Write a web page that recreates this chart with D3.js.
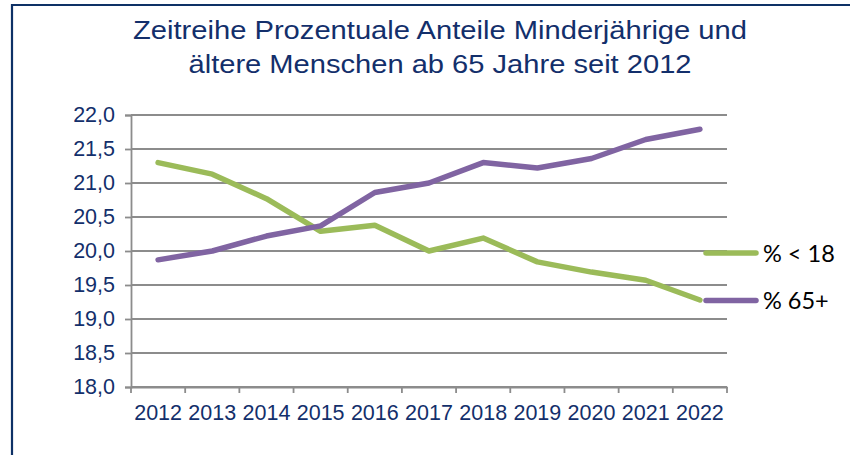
<!DOCTYPE html>
<html><head><meta charset="utf-8">
<script src="https://cdn.jsdelivr.net/npm/d3@7"></script>
<style>
html,body{margin:0;padding:0;background:#fff;}
svg{display:block;}
</style></head>
<body>
<svg id="chart" width="850" height="455"></svg>
<script>
const years = ["2012","2013","2014","2015","2016","2017","2018","2019","2020","2021","2022"];
const under18 = [21.30, 21.13, 20.77, 20.29, 20.38, 20.00, 20.19, 19.84, 19.69, 19.57, 19.28];
const over65 = [19.87, 20.00, 20.22, 20.37, 20.86, 21.00, 21.30, 21.22, 21.36, 21.64, 21.79];
const yTicks = [18.0, 18.5, 19.0, 19.5, 20.0, 20.5, 21.0, 21.5, 22.0];
const seriesNames = ["% < 18", "% 65+"];
const seriesColors = ["#9BBB59", "#8064A2"];
const titleLines = ["Zeitreihe Prozentuale Anteile Minderjährige und", "ältere Menschen ab 65 Jahre seit 2012"];

const svg = d3.select("#chart");
const textColor = "#132F6B";
const gridColor = "#8C8C8C";

// border
svg.append("path").attr("d","M12,455 L12,5 L850,5")
  .attr("fill","none").attr("stroke","#0E3166").attr("stroke-width",2.2);

// title
const titleY = [39, 73];
const titleW = [614, 503];
titleLines.forEach((t,i)=>{
  svg.append("text").attr("x",440).attr("y",titleY[i])
    .attr("text-anchor","middle").attr("fill",textColor)
    .style("font-family","'Liberation Sans', Arial, sans-serif").style("font-size","26px")
    .attr("textLength", titleW[i]).attr("lengthAdjust","spacingAndGlyphs").text(t);
});

const x = d3.scaleBand().domain(years).range([131, 727]);
const y = d3.scaleLinear().domain([18, 22]).range([387, 115]);

// gridlines
svg.append("g").selectAll("line").data(yTicks.filter(d=>d>18)).join("line")
  .attr("x1",131).attr("x2",727).attr("y1",d=>y(d)).attr("y2",d=>y(d))
  .attr("stroke",gridColor).attr("stroke-width",1.8);

// y axis
const yAxis = svg.append("g").attr("transform","translate(131,0)")
  .call(d3.axisLeft(y).tickValues(yTicks).tickSize(6).tickPadding(10)
    .tickFormat(d=>d3.format(".1f")(d).replace(".",",")));
// x axis
const xAxis = svg.append("g").attr("transform","translate(0,387)")
  .call(d3.axisBottom(x).tickSize(0).tickPadding(18));
[yAxis,xAxis].forEach(g=>{
  g.select(".domain").attr("stroke",gridColor).attr("stroke-width",1.8);
  g.selectAll(".tick line").attr("stroke",gridColor).attr("stroke-width",1.8);
  g.selectAll("text").attr("fill",textColor)
    .style("font-family","'Liberation Sans', Arial, sans-serif").style("font-size","21.5px");
});
// x tick marks at band boundaries
const bounds = years.map(d=>x(d)).concat([x(years[years.length-1])+x.bandwidth()]);
svg.append("g").selectAll("line").data(bounds).join("line")
  .attr("x1",d=>d).attr("x2",d=>d).attr("y1",387).attr("y2",393)
  .attr("stroke",gridColor).attr("stroke-width",1.8);
svg.append("line").attr("x1",131).attr("x2",727).attr("y1",387).attr("y2",387)
  .attr("stroke",gridColor).attr("stroke-width",1.8);

// lines
const line = d3.line().x((d,i)=>x(years[i])+x.bandwidth()/2).y(d=>y(d));
[under18, over65].forEach((s,i)=>{
  svg.append("path").datum(s).attr("d",line).attr("fill","none")
    .attr("stroke",seriesColors[i]).attr("stroke-width",5.5)
    .attr("stroke-linecap","round").attr("stroke-linejoin","round");
});

// legend
const legY = [253, 300.5];
seriesNames.forEach((n,i)=>{
  svg.append("line").attr("x1",706).attr("x2",756).attr("y1",legY[i]).attr("y2",legY[i])
    .attr("stroke",seriesColors[i]).attr("stroke-width",5.5).attr("stroke-linecap","round");
  svg.append("text").attr("x",763).attr("y",legY[i]+8.5).attr("fill","#000")
    .style("font-family","Lato, 'Open Sans', sans-serif").style("font-size","23.5px").text(n);
});
</script>
</body></html>
